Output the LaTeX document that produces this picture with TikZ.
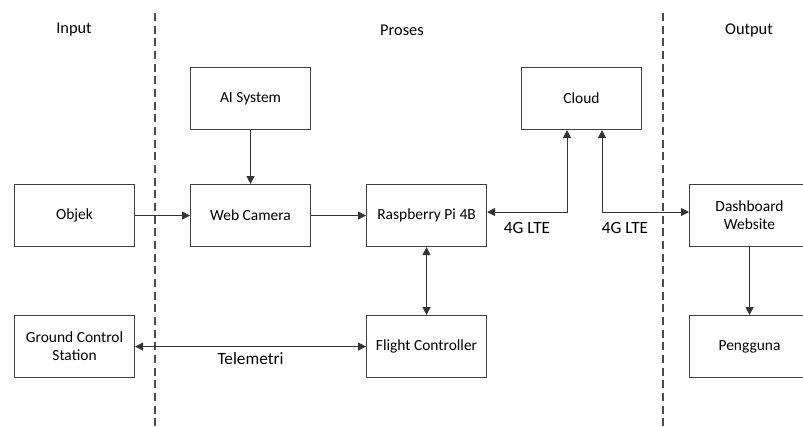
\documentclass[tikz,border=0pt]{standalone}
\usepackage{fontspec}
\setmainfont{Carlito}
\usetikzlibrary{arrows.meta}
\begin{document}
\begin{tikzpicture}[x=0.75pt,y=-0.75pt,
  box/.style={draw=black!75,line width=0.8pt,minimum width=90pt,minimum height=46.5pt,inner sep=1pt,align=center,font=\fontsize{11.6}{13.5}\selectfont,anchor=north west},
  conn/.style={draw=black!80,line width=0.75pt,-{Triangle[length=6pt,width=6pt]}},
  dconn/.style={draw=black!80,line width=0.75pt,{Triangle[length=6pt,width=6pt]}-{Triangle[length=6pt,width=6pt]}},
  sep/.style={draw=black!70,line width=0.9pt,dash pattern=on 6pt off 3.5pt},
  hdr/.style={font=\fontsize{12.3}{14}\selectfont},
  lbl/.style={font=\fontsize{12.9}{15}\selectfont}]
\useasboundingbox (0,0) rectangle (803,426);
% separators
\coordinate (s1t) at (155,13); \coordinate (s1b) at (155,426);
\coordinate (s2t) at (663,13); \coordinate (s2b) at (663,426);
\draw[sep] (s1t) -- (s1b);
\draw[sep] (s2t) -- (s2b);
% headers
\node[hdr] (hin) at (74,30) {Input};
\node[hdr] (hpr) at (402,30) {Proses};
\node[hdr] (hout) at (749,30) {Output};
% boxes
\node[box] (ai) at (190,67) {AI System};
\node[box] (cloud) at (521,67) {Cloud};
\node[box] (obj) at (14,184) {Objek};
\node[box] (cam) at (190,184) {Web Camera};
\node[box] (rpi) at (366,184) {Raspberry Pi 4B};
\node[box] (dash) at (689,184) {Dashboard\\Website};
\node[box] (gcs) at (14,315) {Ground Control\\Station};
\node[box] (fc) at (366,315) {Flight Controller};
\node[box] (user) at (689,315) {Pengguna};
% connectors
\draw[conn] (ai) -- (cam);
\draw[conn] (obj) -- (cam);
\draw[conn] (cam) -- (rpi);
\draw[dconn] (rpi) -- (fc);
\draw[dconn] (gcs) -- node[lbl,below=1pt] (tel) {Telemetri} (fc);
\draw[conn] (dash) -- (user);
\coordinate (c1) at (567,212);
\coordinate (c2) at (602,212);
\draw[dconn] (rpi.east |- c1) -- (c1) -- (c1 |- cloud.south);
\draw[dconn] (c2 |- cloud.south) -- (c2) -- (dash.west |- c2);
\node[lbl] (lte1) at (527,228) {4G LTE};
\node[lbl] (lte2) at (625,228) {4G LTE};
\end{tikzpicture}
\end{document}
